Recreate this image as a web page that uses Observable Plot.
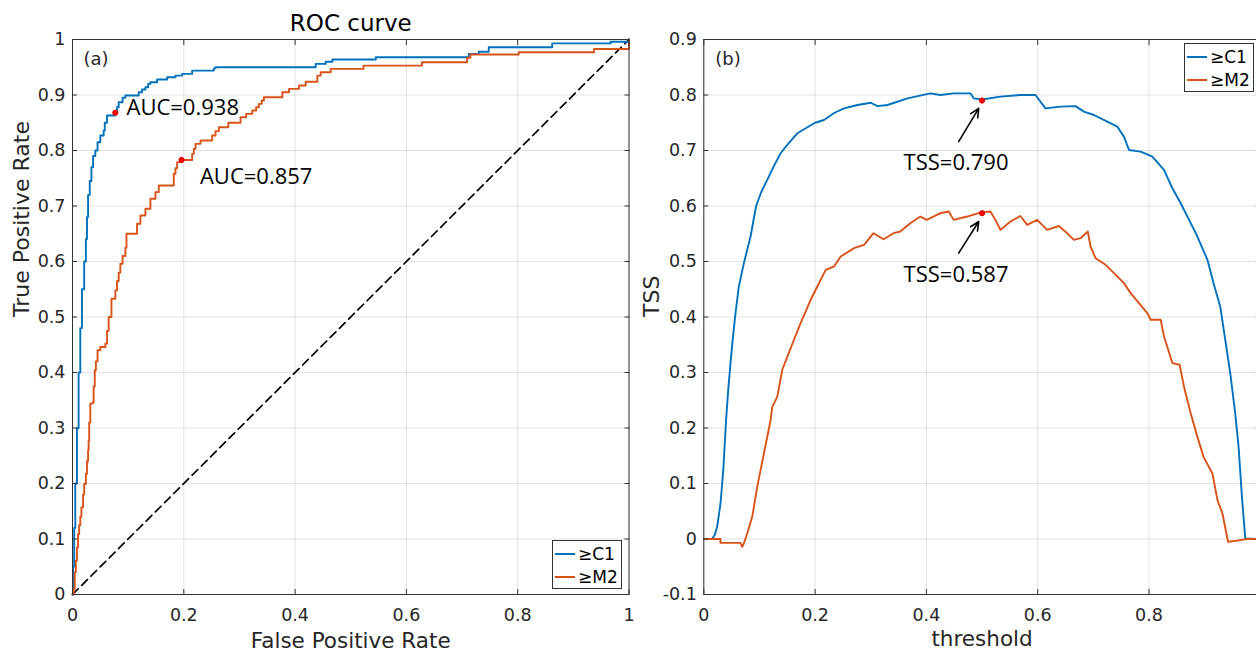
<!DOCTYPE html>
<html><head><meta charset="utf-8">
<script src="https://cdn.jsdelivr.net/npm/d3@7"></script>
<script src="https://cdn.jsdelivr.net/npm/@observablehq/plot@0.6"></script>
<style>
html,body{margin:0;padding:0;background:#fff;overflow:hidden;}
#wrap{position:relative;width:1256px;height:652px;overflow:hidden;background:#fff;}
.panel{position:absolute;top:0;width:640px;height:652px;}
.panel svg{max-width:none !important;width:640px;height:652px;display:block;}
.legend{position:absolute;box-sizing:border-box;width:70px;height:49px;border:1px solid #333;background:#fff;font-family:"DejaVu Sans";font-size:17px;color:#000;padding-top:1px;}
.row{display:flex;align-items:center;height:23px;}
.sw{width:20px;height:2px;margin-left:2px;margin-right:3px;flex:none;}
</style></head><body><div id="wrap"></div>
<script>
// ---------- data ----------
const seriesNames = ["≥C1", "≥M2"];
const seriesColors = ["#0072BD", "#D95319"];

const fprTicks = [0, 0.2, 0.4, 0.6, 0.8, 1];
const tprTicks = [0, 0.1, 0.2, 0.3, 0.4, 0.5, 0.6, 0.7, 0.8, 0.9, 1];
const thrTicks = [0, 0.2, 0.4, 0.6, 0.8, 1];
const tssTicks = [-0.1, 0, 0.1, 0.2, 0.3, 0.4, 0.5, 0.6, 0.7, 0.8, 0.9];

// ROC curve >=C1 : [FPR, TPR]
const rocC1 = [[0,0],[0.001,0.05],[0.003,0.12],[0.005,0.2],[0.008,0.3],[0.011,0.4],[0.014,0.48],[0.017,0.55],[0.021,0.6],[0.024,0.64],[0.026,0.68],[0.028,0.72],[0.031,0.745],[0.034,0.77],[0.037,0.79],[0.041,0.8],[0.045,0.815],[0.05,0.827],[0.056,0.836],[0.058,0.85],[0.062,0.863],[0.077,0.868],[0.08,0.878],[0.083,0.887],[0.09,0.895],[0.095,0.899],[0.119,0.905],[0.125,0.91],[0.131,0.914],[0.136,0.92],[0.14,0.923],[0.152,0.928],[0.17,0.932],[0.185,0.935],[0.197,0.938],[0.215,0.944],[0.254,0.948],[0.257,0.95],[0.437,0.956],[0.455,0.96],[0.467,0.964],[0.545,0.968],[0.712,0.974],[0.73,0.978],[0.748,0.986],[0.862,0.993],[0.967,0.996],[1,1]];
// ROC curve >=M2 : [FPR, TPR]
const rocM2 = [[0,0],[0.002,0.01],[0.004,0.04],[0.006,0.061],[0.008,0.085],[0.01,0.109],[0.012,0.125],[0.014,0.14],[0.016,0.157],[0.019,0.18],[0.021,0.199],[0.024,0.217],[0.026,0.24],[0.028,0.26],[0.029,0.277],[0.03,0.31],[0.032,0.344],[0.036,0.346],[0.038,0.375],[0.04,0.404],[0.042,0.42],[0.045,0.44],[0.05,0.446],[0.059,0.452],[0.062,0.475],[0.065,0.5],[0.07,0.533],[0.077,0.548],[0.08,0.565],[0.083,0.58],[0.086,0.596],[0.09,0.61],[0.095,0.625],[0.097,0.65],[0.116,0.668],[0.122,0.683],[0.131,0.695],[0.14,0.713],[0.149,0.725],[0.155,0.737],[0.182,0.758],[0.185,0.768],[0.188,0.779],[0.196,0.783],[0.215,0.794],[0.218,0.803],[0.221,0.812],[0.23,0.818],[0.251,0.827],[0.257,0.835],[0.263,0.842],[0.28,0.85],[0.302,0.86],[0.312,0.866],[0.323,0.872],[0.33,0.878],[0.335,0.884],[0.34,0.89],[0.344,0.896],[0.377,0.905],[0.389,0.911],[0.407,0.917],[0.419,0.924],[0.44,0.935],[0.446,0.941],[0.464,0.947],[0.523,0.953],[0.628,0.959],[0.709,0.967],[0.715,0.973],[0.802,0.977],[0.937,0.983],[1,1]];
const rocChance = [[0,0],[1,1]];
const rocBest = [[0.077,0.868],[0.196,0.783]];
const aucLabels = ["AUC=0.938", "AUC=0.857"];
const aucAnchors = [[0.097,0.877],[0.229,0.753]];

// TSS vs threshold : [threshold, TSS]
const tssC1 = [[0,0],[0.015,0],[0.02,0.008],[0.024,0.022],[0.03,0.064],[0.035,0.124],[0.04,0.214],[0.044,0.27],[0.048,0.317],[0.052,0.36],[0.057,0.407],[0.063,0.455],[0.072,0.497],[0.084,0.545],[0.094,0.6],[0.104,0.627],[0.114,0.647],[0.125,0.67],[0.138,0.695],[0.15,0.71],[0.168,0.731],[0.2,0.75],[0.216,0.755],[0.235,0.768],[0.252,0.776],[0.276,0.782],[0.3,0.786],[0.312,0.78],[0.33,0.782],[0.366,0.794],[0.407,0.803],[0.425,0.8],[0.449,0.803],[0.479,0.803],[0.485,0.794],[0.5,0.792],[0.533,0.797],[0.569,0.8],[0.596,0.8],[0.614,0.776],[0.641,0.779],[0.668,0.78],[0.683,0.77],[0.701,0.764],[0.725,0.752],[0.743,0.743],[0.755,0.725],[0.764,0.701],[0.785,0.698],[0.806,0.689],[0.827,0.665],[0.842,0.632],[0.857,0.605],[0.872,0.575],[0.887,0.545],[0.905,0.503],[0.916,0.461],[0.928,0.419],[0.937,0.359],[0.946,0.299],[0.955,0.226],[0.961,0.166],[0.967,0.076],[0.973,0.001],[1,0]];
const tssM2 = [[0,0],[0.03,0],[0.03,-0.007],[0.066,-0.007],[0.069,-0.014],[0.072,-0.008],[0.078,0.01],[0.087,0.04],[0.096,0.094],[0.111,0.169],[0.12,0.214],[0.123,0.238],[0.132,0.256],[0.141,0.305],[0.15,0.328],[0.162,0.359],[0.174,0.389],[0.192,0.431],[0.204,0.455],[0.219,0.485],[0.234,0.491],[0.246,0.509],[0.27,0.524],[0.288,0.53],[0.305,0.551],[0.323,0.54],[0.341,0.551],[0.353,0.554],[0.371,0.569],[0.389,0.581],[0.401,0.575],[0.425,0.587],[0.44,0.59],[0.449,0.575],[0.473,0.581],[0.5,0.589],[0.515,0.59],[0.524,0.575],[0.533,0.557],[0.551,0.572],[0.569,0.582],[0.581,0.566],[0.599,0.575],[0.617,0.557],[0.638,0.564],[0.653,0.551],[0.665,0.539],[0.677,0.542],[0.69,0.554],[0.695,0.527],[0.704,0.506],[0.722,0.494],[0.737,0.479],[0.755,0.461],[0.767,0.443],[0.782,0.425],[0.797,0.407],[0.803,0.395],[0.821,0.395],[0.827,0.365],[0.842,0.317],[0.855,0.314],[0.863,0.274],[0.875,0.226],[0.887,0.184],[0.898,0.148],[0.914,0.118],[0.923,0.07],[0.932,0.046],[0.942,-0.005],[0.958,-0.003],[0.976,0],[1,0]];
const tssBest = [[0.5,0.790],[0.5,0.587]];
const tssLabels = ["TSS=0.790", "TSS=0.587"];
const tssAnchors = [[0.359,0.677],[0.359,0.475]];
const tssArrows = [[0.458,0.716,0.494,0.776],[0.458,0.515,0.494,0.572]];

// ---------- styling ----------
const axisColor = "#333";
const textColor = "#262626";
const mFont = "DejaVu Sans";
const aFont = "Open Sans";

function frameAxes(xT, yT) {
  return [
    Plot.gridX(xT, {stroke: "#000", strokeOpacity: 0.11}),
    Plot.gridY(yT, {stroke: "#000", strokeOpacity: 0.11}),
  ];
}
function ticksAndLabels(xT, yT) {
  const fmt = d => String(d);
  const none = () => "";
  return [
    Plot.frame({stroke: axisColor, strokeWidth: 1}),
    Plot.axisX(xT, {anchor: "bottom", tickSize: 5, dy: -5, tickFormat: none, stroke: axisColor, label: null}),
    Plot.axisX(xT, {anchor: "top", tickSize: 5, dy: 5, tickFormat: none, stroke: axisColor, label: null}),
    Plot.axisY(yT, {anchor: "left", tickSize: 5, dx: 5, tickFormat: none, stroke: axisColor, label: null}),
    Plot.axisY(yT, {anchor: "right", tickSize: 5, dx: -5, tickFormat: none, stroke: axisColor, label: null}),
    Plot.axisX(xT, {anchor: "bottom", tickSize: 0, tickPadding: 14, tickFormat: fmt, fill: textColor, fontSize: 17.5, label: null}),
    Plot.axisY(yT, {anchor: "left", tickSize: 0, tickPadding: 7, tickFormat: fmt, fill: textColor, fontSize: 17.5, label: null}),
  ];
}
const pt = (a) => a.map(([x, y]) => ({x, y}));

// ---------- panel (a): ROC ----------
const rocSeries = [rocC1, rocM2];
const left = Plot.plot({
  width: 640, height: 652,
  marginLeft: 72, marginRight: 11.5, marginTop: 39, marginBottom: 58,
  style: {fontFamily: mFont, fontSize: "17.5px", background: "white", overflow: "visible"},
  x: {domain: [0, 1]},
  y: {domain: [0, 1]},
  marks: [
    ...frameAxes(fprTicks, tprTicks),
    Plot.line(pt(rocChance), {x: "x", y: "y", stroke: "#000", strokeWidth: 1.7, strokeDasharray: "8,5"}),
    ...rocSeries.map((s, i) => Plot.line(pt(s), {x: "x", y: "y", stroke: seriesColors[i], strokeWidth: 1.9, curve: "step-after"})),
    Plot.dot(pt(rocBest), {x: "x", y: "y", r: 2.6, fill: "#ff0000", stroke: "#e00000", strokeWidth: 1}),
    Plot.text(aucLabels, {x: (d, i) => aucAnchors[i][0], y: (d, i) => aucAnchors[i][1], text: d => d, textAnchor: "start", lineAnchor: "middle", fontFamily: aFont, fontSize: 22, fill: "#000"}),
    ...ticksAndLabels(fprTicks, tprTicks),
    Plot.text(["(a)"], {text: d => d, frameAnchor: "top-left", dx: 11, dy: 20, textAnchor: "start", lineAnchor: "middle", fontSize: 18, fill: textColor}),
    Plot.text(["ROC curve"], {text: d => d, frameAnchor: "top", dy: -16, lineAnchor: "middle", fontSize: 23, fill: "#000"}),
    Plot.text(["False Positive Rate"], {text: d => d, frameAnchor: "bottom", dy: 38, lineAnchor: "top", fontSize: 21.5, fill: textColor}),
    Plot.text(["True Positive Rate"], {text: d => d, frameAnchor: "left", dx: -51, rotate: -90, lineAnchor: "middle", fontSize: 22, fill: textColor}),
  ]
});

// ---------- panel (b): TSS ----------
const tssSeries = [tssC1, tssM2];
const right = Plot.plot({
  width: 640, height: 652,
  marginLeft: 63.3, marginRight: 20.2, marginTop: 39, marginBottom: 58,
  style: {fontFamily: mFont, fontSize: "17.5px", background: "white", overflow: "visible"},
  x: {domain: [0, 1]},
  y: {domain: [-0.1, 0.9]},
  marks: [
    ...frameAxes(thrTicks, tssTicks),
    ...tssSeries.map((s, i) => Plot.line(pt(s), {x: "x", y: "y", stroke: seriesColors[i], strokeWidth: 1.9})),
    Plot.dot(pt(tssBest), {x: "x", y: "y", r: 2.6, fill: "#ff0000", stroke: "#e00000", strokeWidth: 1}),
    Plot.arrow(tssArrows, {x1: d => d[0], y1: d => d[1], x2: d => d[2], y2: d => d[3], stroke: "#000", strokeWidth: 1.6, headLength: 9, headAngle: 50}),
    Plot.text(tssLabels, {x: (d, i) => tssAnchors[i][0], y: (d, i) => tssAnchors[i][1], text: d => d, textAnchor: "start", lineAnchor: "middle", fontFamily: aFont, fontSize: 22, fill: "#000"}),
    ...ticksAndLabels(thrTicks, tssTicks),
    Plot.text(["(b)"], {text: d => d, frameAnchor: "top-left", dx: 11.5, dy: 20, textAnchor: "start", lineAnchor: "middle", fontSize: 18, fill: textColor}),
    Plot.text(["threshold"], {text: d => d, frameAnchor: "bottom", dy: 36, lineAnchor: "top", fontSize: 21.5, fill: textColor}),
    Plot.text(["TSS"], {text: d => d, frameAnchor: "left", dx: -52, rotate: -90, lineAnchor: "middle", fontSize: 22, fill: textColor}),
  ]
});

const wrap = document.getElementById("wrap");
function place(el, x) {
  const d = document.createElement("div");
  d.className = "panel";
  d.style.left = x + "px";
  d.appendChild(el);
  wrap.appendChild(d);
}
place(left, 0);
place(right, 640);

function legend(x, y) {
  const box = document.createElement("div");
  box.className = "legend";
  box.style.left = x + "px";
  box.style.top = y + "px";
  seriesNames.forEach((n, i) => {
    const row = document.createElement("div");
    row.className = "row";
    const sw = document.createElement("span");
    sw.className = "sw";
    sw.style.background = seriesColors[i];
    const t = document.createElement("span");
    t.textContent = n;
    row.appendChild(sw);
    row.appendChild(t);
    box.appendChild(row);
  });
  wrap.appendChild(box);
}
legend(552, 540);
legend(1184, 43);
</script></body></html>
